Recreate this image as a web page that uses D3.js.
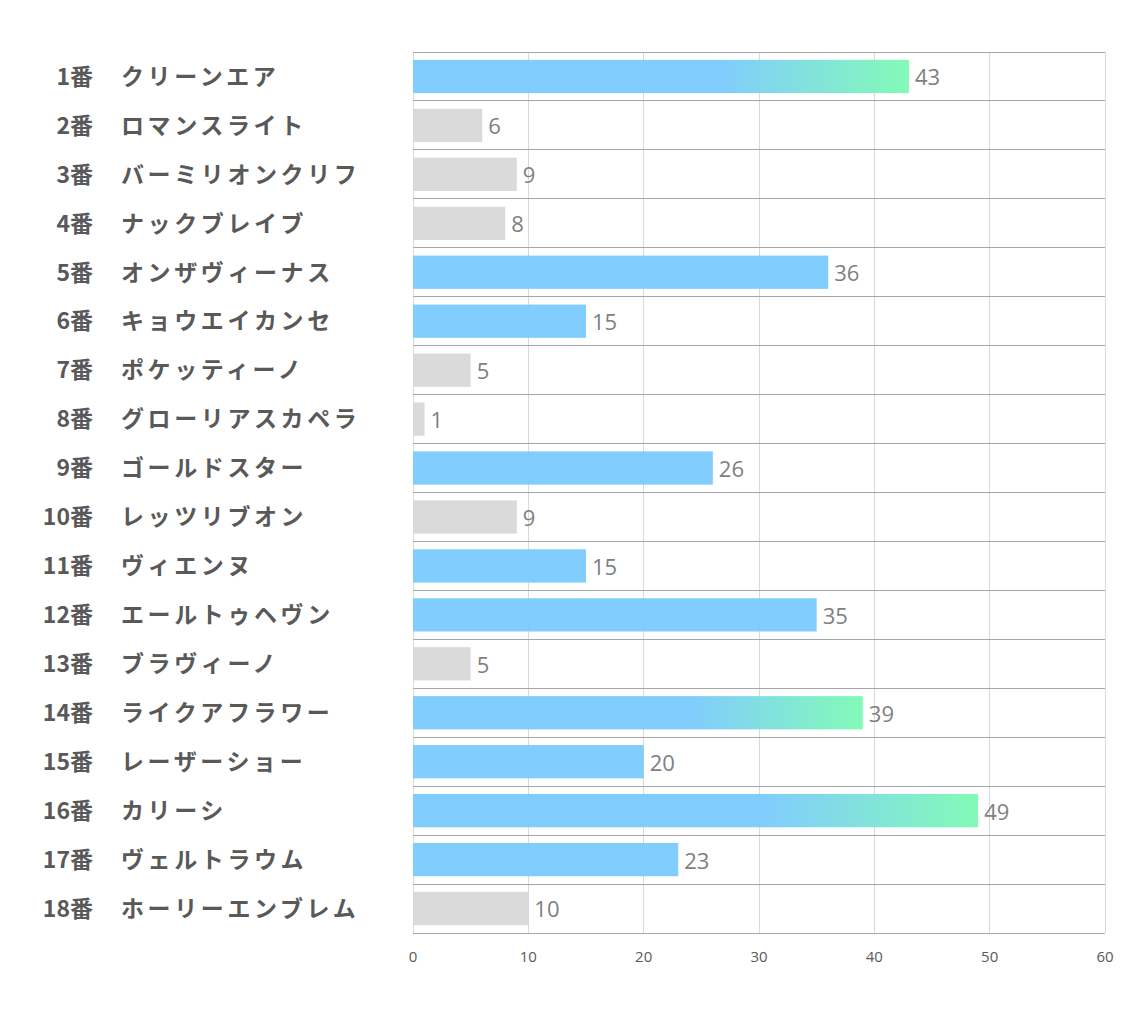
<!DOCTYPE html>
<html><head><meta charset="utf-8">
<script src="https://cdn.jsdelivr.net/npm/d3@7"></script>
<style>body{margin:0;background:#fff}</style>
</head><body>
<svg id="c" width="1134" height="1020"></svg>
<script>
const nums = ["1番","2番","3番","4番","5番","6番","7番","8番","9番","10番","11番","12番","13番","14番","15番","16番","17番","18番"];
const names = ["クリーンエア","ロマンスライト","バーミリオンクリフ","ナックブレイブ","オンザヴィーナス","キョウエイカンセ","ポケッティーノ","グローリアスカペラ","ゴールドスター","レッツリブオン","ヴィエンヌ","エールトゥヘヴン","ブラヴィーノ","ライクアフラワー","レーザーショー","カリーシ","ヴェルトラウム","ホーリーエンブレム"];
const values = [43,6,9,8,36,15,5,1,26,9,15,35,5,39,20,49,23,10];
const ticks = [0,10,20,30,40,50,60];

const svg = d3.select("#c");
const x = d3.scaleLinear().domain([0,60]).range([413,1105]);
const y = d3.scaleBand().domain(d3.range(values.length)).range([52,933]).paddingInner(0.32).paddingOuter(0.16);
const rowY = d3.scaleBand().domain(d3.range(values.length)).range([52,933]);

const defs = svg.append("defs");
const grad = defs.append("linearGradient").attr("id","g").attr("x1","0").attr("x2","1").attr("y1","0").attr("y2","0");
grad.append("stop").attr("offset","0.62").attr("stop-color","#7dcbfd");
grad.append("stop").attr("offset","1").attr("stop-color","#7ffab5");

const top3 = values.slice().sort((a,b)=>b-a).slice(0,3);

// vertical grid
svg.append("g").selectAll("line").data(ticks).join("line")
  .attr("x1",d=>x(d)).attr("x2",d=>x(d)).attr("y1",52).attr("y2",933)
  .attr("stroke","#d9d9d9").attr("stroke-width",1).attr("shape-rendering","crispEdges");

// horizontal row lines
svg.append("g").selectAll("line").data(d3.range(values.length+1)).join("line")
  .attr("x1",413).attr("x2",1105)
  .attr("y1",d=>d<values.length?rowY(d):933).attr("y2",d=>d<values.length?rowY(d):933)
  .attr("stroke","#a6a6a6").attr("stroke-width",1).attr("shape-rendering","crispEdges");

// bars
svg.append("g").selectAll("rect").data(values).join("rect")
  .attr("x",x(0)).attr("y",(d,i)=>y(i)).attr("height",y.bandwidth())
  .attr("width",d=>x(d)-x(0))
  .attr("fill",d=>top3.includes(d)?"url(#g)":(d>=15?"#7dcbfd":"#d9d9d9"))
  .attr("opacity",0.97);

// value labels
svg.append("g").selectAll("text").data(values).join("text")
  .attr("x",d=>x(d)+6).attr("y",(d,i)=>y(i)+y.bandwidth()/2+1)
  .attr("dy","0.36em").attr("font-family","'Open Sans', sans-serif").attr("font-size",22)
  .attr("fill","#808080").text(d=>d);

// category labels
const lab = svg.append("g").attr("font-family","'Noto Sans CJK JP', sans-serif").attr("font-weight","bold").attr("font-size",23).attr("fill","#595959");
lab.selectAll("text.n").data(nums).join("text").attr("class","n")
  .attr("x",93).attr("y",(d,i)=>rowY(i)+rowY.bandwidth()/2).attr("dy","0.36em")
  .attr("text-anchor","end").text(d=>d);
lab.selectAll("text.m").data(names).join("text").attr("class","m")
  .attr("x",121).attr("y",(d,i)=>rowY(i)+rowY.bandwidth()/2).attr("dy","0.36em")
  .attr("letter-spacing","3.6px").text(d=>d);

// x axis tick labels
svg.append("g").selectAll("text").data(ticks).join("text")
  .attr("x",d=>x(d)).attr("y",957).attr("dy","0.36em").attr("text-anchor","middle")
  .attr("font-family","'Open Sans', sans-serif").attr("font-size",15).attr("fill","#595959")
  .text(d=>d);
</script>
</body></html>
